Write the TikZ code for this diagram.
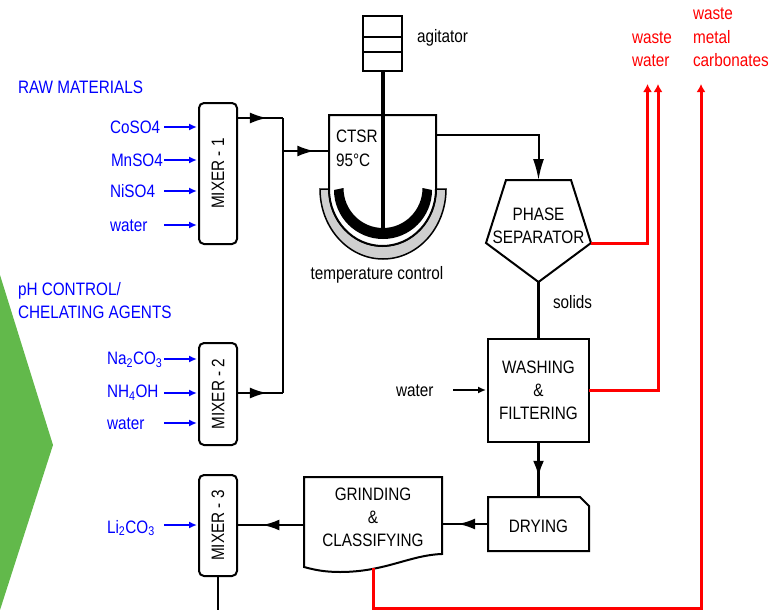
\documentclass[tikz,border=0pt]{standalone}
\usepackage{fontspec}
\setmainfont{Liberation Sans}[FakeStretch=0.85]
\usetikzlibrary{arrows.meta, decorations.markings}
\definecolor{chevrongreen}{HTML}{62B94B}
\definecolor{jacketgrey}{HTML}{CFCFCF}

\begin{document}
\begin{tikzpicture}[x=1pt, y=-1pt,
		every node/.style={font=\fontsize{18}{20}\selectfont, inner sep=0pt, outer sep=0pt, align=center},
		mixer/.style={draw, line width=2pt, rounded corners=5pt, minimum width=38pt},
		unit/.style={draw, line width=2pt, minimum width=101pt},
		feed/.style={text=blue, anchor=west},
		waste/.style={text=red, anchor=west},
		plain/.style={anchor=west},
		feedline/.style={blue, line width=2pt, shorten >=2pt, -{Latex[length=8pt,width=7pt]}},
		wasteline/.style={red, line width=3pt, -{Latex[length=8pt,width=9pt]}},
		flow/.style={line width=2pt},
		heavyflow/.style={line width=3.5pt},
		midarrow/.style={postaction={decorate}, decoration={markings, mark=at position #1 with {\arrow{Latex[length=17pt,width=11pt]}}}}
	]
		\useasboundingbox (0,0) rectangle (771,610);
		\fill[chevrongreen] (0,275) -- (53,445) -- (0,610) -- cycle;

		\node[feed] (rawtitle) at (18,87) {RAW MATERIALS};
		\node[feed] (phtitle) at (18,290.5) {pH CONTROL/};
		\node[feed] (cheltitle) at (18,312) {CHELATING AGENTS};

		\node[mixer, minimum height=141pt] (mixer1) at (218,173.5) {\rotatebox{90}{MIXER - 1}};
		\node[mixer, minimum height=102pt] (mixer2) at (218,394) {\rotatebox{90}{MIXER - 2}};
		\node[mixer, minimum height=101pt] (mixer3) at (218,525.5) {\rotatebox{90}{MIXER - 3}};

		\node[feed] (coso4) at (110,127) {CoSO4};
		\node[feed] (mnso4) at (111,160) {MnSO4};
		\node[feed] (niso4) at (110,191) {NiSO4};
		\node[feed] (water1) at (110,226) {water};
		\node[feed] (na2co3) at (107,360) {Na\textsubscript{2}CO\textsubscript{3}};
		\node[feed] (nh4oh) at (107,393) {NH\textsubscript{4}OH};
		\node[feed] (water2) at (107,424) {water};
		\node[feed] (li2co3) at (107,528) {Li\textsubscript{2}CO\textsubscript{3}};

		\coordinate (coso4in) at (164,127);
		\coordinate (mnso4in) at (164,160);
		\coordinate (niso4in) at (164,191);
		\coordinate (water1in) at (164,225);
		\coordinate (na2co3in) at (164,359);
		\coordinate (nh4ohin) at (164,393);
		\coordinate (water2in) at (164,423);
		\coordinate (li2co3in) at (164,525);
		\draw[feedline] (coso4in) -- (mixer1.west |- coso4in);
		\draw[feedline] (mnso4in) -- (mixer1.west |- mnso4in);
		\draw[feedline] (niso4in) -- (mixer1.west |- niso4in);
		\draw[feedline] (water1in) -- (mixer1.west |- water1in);
		\draw[feedline] (na2co3in) -- (mixer2.west |- na2co3in);
		\draw[feedline] (nh4ohin) -- (mixer2.west |- nh4ohin);
		\draw[feedline] (water2in) -- (mixer2.west |- water2in);
		\draw[feedline] (li2co3in) -- (mixer3.west |- li2co3in);

		% vessel
		\node[minimum width=107pt, minimum height=131pt] (ctsr) at (382.5,180.5) {};
		\fill[jacketgrey, draw=black, line width=1.5pt] (320,189) arc[start angle=180, end angle=360, x radius=63pt, y radius=70pt] -- (436,189) arc[start angle=0, end angle=-180, x radius=53.5pt, y radius=57pt] -- cycle;
		\draw[line width=2pt, fill=white] (ctsr.north west) -- (329,189) arc[start angle=180, end angle=360, x radius=53.5pt, y radius=57pt] -- (ctsr.north east) -- cycle;
		\fill[black] (334,190) arc[start angle=180, end angle=360, x radius=49pt, y radius=49pt] -- (422.5,188) arc[start angle=0, end angle=-180, x radius=39.5pt, y radius=40pt] -- cycle;
		\node[plain] (ctsrtext) at (336,136) {CTSR};
		\node[plain] (ctsrtemp) at (336,160) {95°C};
		\node (tempcontrol) at (377,274.5) {temperature control};

		\node[draw, line width=2pt, minimum width=39pt, minimum height=55pt] (agitator) at (382.5,43.5) {};
		\draw[line width=2pt] (agitator.west |- 0,37) -- (agitator.east |- 0,37);
		\draw[line width=2pt] (agitator.west |- 0,52) -- (agitator.east |- 0,52);
		\node[plain] (agitatortext) at (417,37.5) {agitator};
		\coordinate (shaftend) at (382.5,232);
		\draw[line width=4pt] (agitator.south) -- (shaftend);

		\node (separator) at (538.5,225.5) {PHASE\\[3pt]SEPARATOR};
		\coordinate (septop) at (538.5,180);
		\coordinate (sepright) at (591,243);
		\coordinate (sepbottom) at (538.5,282);
		\draw[line width=2pt] (506,180) -- (571,180) -- (sepright) -- (sepbottom) -- (486,243) -- cycle;

		\node[unit, minimum height=103pt] (washing) at (538.5,390.5) {WASHING\\[3pt]\&\\[3pt]FILTERING};
		\node (drying) at (538.5,526) {DRYING};
		\draw[line width=2pt] (488,497) -- (580,497) -- (589,506) -- (589,551) -- (488,551) -- cycle;
		\coordinate (dryingtop) at (538.5,497);
		\coordinate (dryingwest) at (488,524);
		\node (grinding) at (373,517) {GRINDING\\[3pt]\&\\[3pt]CLASSIFYING};
		\draw[line width=2pt] (304,477) -- (442,477) -- (442,554) .. controls (410,555) and (385,572) .. (340,572) .. controls (325,572) and (315,570) .. (304,567) -- cycle;
		\coordinate (grindingeast) at (442,524);
		\coordinate (grindingwest) at (304,525);
		\coordinate (grindingbottom) at (373,568);

		\node[plain] (solids) at (553,302) {solids};
		\node[plain] (water3) at (396,391) {water};
		\coordinate (water3in) at (453,390);
		\draw[line width=1.5pt, shorten >=2pt, -{Latex[length=8pt,width=7pt]}] (water3in) -- (washing.west |- water3in);

		\coordinate (busin) at (283,151);
		\coordinate (bustop) at (283,118);
		\coordinate (busbottom) at (283,393);
		\coordinate (ctsrin) at (329,151);
		\coordinate (ctsrout) at (436,135);
		\coordinate (mixer1out) at (237,118);
		\coordinate (mixer2out) at (237,393);
		\coordinate (mixer3out) at (237,525);
		\coordinate (mixer3end) at (218,610);
		\draw[flow] (bustop) -- (busbottom);
		\draw[flow, midarrow=0.65] (mixer1out) -- (bustop);
		\draw[flow, midarrow=0.65] (mixer2out) -- (busbottom);
		\draw[flow, midarrow=0.68] (busin) -- (ctsrin);
		\draw[flow, -{Latex[length=21pt,width=11pt]}] (ctsrout) -| (septop);
		\draw[heavyflow] (sepbottom) -- (washing.north);
		\draw[heavyflow, midarrow=0.65] (washing.south) -- (dryingtop);
		\draw[flow, midarrow=0.65] (dryingwest) -- (grindingeast);
		\draw[flow, midarrow=0.62] (grindingwest) -- (mixer3out);
		\draw[flow] (mixer3.south) -- (mixer3end);

		\node[waste] (waste1) at (632,38) {waste};
		\node[waste] (wastewater) at (632,61) {water};
		\node[waste] (waste2) at (693,14) {waste};
		\node[waste] (wastemetal) at (693,37) {metal};
		\node[waste] (wastecarb) at (693,60) {carbonates};

		\coordinate (waterout1) at (647.5,84);
		\coordinate (waterout2) at (658,84);
		\coordinate (carbout) at (701,84);
		\coordinate (redcorner) at (373,608);
		\draw[wasteline] (sepright) -| (waterout1);
		\draw[wasteline] (washing.east) -| (waterout2);
		\draw[wasteline] (grindingbottom) -- (redcorner) -| (carbout);
	\end{tikzpicture}
\end{document}
